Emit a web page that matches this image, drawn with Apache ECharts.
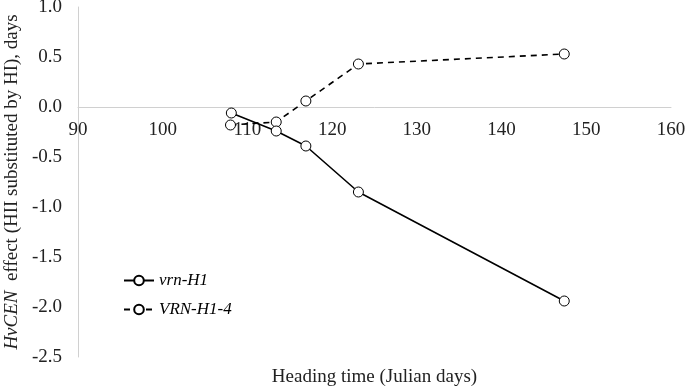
<!DOCTYPE html>
<html><head><meta charset="utf-8">
<script src="https://cdn.jsdelivr.net/npm/echarts@6/dist/echarts.min.js"></script>
<style>html,body{margin:0;padding:0;background:#fff}#c{width:685px;height:387px}</style>
</head><body><div id="c"></div>
<script>
const seriesNames = ['vrn-H1', 'VRN-H1-4'];
const vrnH1X = [108.1, 113.4, 116.9, 123.1, 147.4];
const vrnH1Y = [-0.06, -0.24, -0.39, -0.85, -1.94];
const VRNH14X = [108.0, 113.4, 116.9, 123.1, 147.4];
const VRNH14Y = [-0.18, -0.15, 0.06, 0.43, 0.53];
const xTicks = [90, 100, 110, 120, 130, 140, 150, 160];
const yTicks = [-2.5, -2.0, -1.5, -1.0, -0.5, 0.0, 0.5, 1.0];

const font = '"Liberation Serif", "Times New Roman", serif';
const fs = 19;
const gridTop = 7, gridBottom = 30, H = 387;
const plotH = H - gridTop - gridBottom;
const yMin = yTicks[0], yMax = yTicks[yTicks.length - 1];
const zeroOffset = -plotH * (0 - yMin) / (yMax - yMin);

const chart = echarts.init(document.getElementById('c'));
chart.setOption({
  animation: false,
  textStyle: {fontFamily: font},
  grid: {left: 78, right: 14, top: gridTop, bottom: gridBottom, containLabel: false, outerBoundsMode: 'none'},
  legend: {
    orient: 'vertical', left: 123, top: 272, padding: 0, itemGap: 12, itemWidth: 30, itemHeight: 12,
    textStyle: {fontFamily: font, fontSize: 17, fontStyle: 'italic', color: '#000'},
    data: seriesNames
  },
  xAxis: [{
    type: 'value', position: 'bottom', min: xTicks[0], max: xTicks[xTicks.length - 1], interval: 10,
    offset: zeroOffset,
    axisLine: {onZero: false, lineStyle: {color: '#d0d0d0', width: 1}},
    axisTick: {show: false}, splitLine: {show: false},
    axisLabel: {fontFamily: font, fontSize: fs, color: '#222', margin: 14}
  }, {
    type: 'value', position: 'bottom', offset: 0, min: xTicks[0], max: xTicks[xTicks.length - 1], interval: 10,
    axisLine: {show: false}, axisTick: {show: false}, splitLine: {show: false},
    axisLabel: {show: false},
    name: 'Heading time (Julian days)', nameLocation: 'middle', nameGap: 11,
    nameTextStyle: {fontFamily: font, fontSize: fs, color: '#222', verticalAlign: 'top'}
  }],
  yAxis: {
    type: 'value', min: yMin, max: yMax, interval: 0.5,
    axisLine: {show: true, lineStyle: {color: '#d0d0d0', width: 1}},
    axisTick: {show: false}, splitLine: {show: false},
    axisLabel: {fontFamily: font, fontSize: fs, color: '#222', margin: 16,
      formatter: v => v.toFixed(1)},
    name: '{i|HvCEN}  effect (HII substituted by HI), days', nameLocation: 'middle', nameGap: 53,
    nameTextStyle: {fontFamily: font, fontSize: fs, color: '#222',
      rich: {i: {fontFamily: font, fontSize: fs, fontStyle: 'italic', color: '#222'}}}
  },
  series: [
    {name: seriesNames[0], type: 'line', xAxisIndex: 0, data: vrnH1X.map((x, i) => [x, vrnH1Y[i]]),
     symbol: 'circle', symbolSize: 10,
     itemStyle: {color: '#fff', borderColor: '#000', borderWidth: 1},
     lineStyle: {color: '#000', width: 1.6}, z: 3},
    {name: seriesNames[1], type: 'line', xAxisIndex: 0, data: VRNH14X.map((x, i) => [x, VRNH14Y[i]]),
     symbol: 'circle', symbolSize: 10,
     itemStyle: {color: '#fff', borderColor: '#000', borderWidth: 1},
     lineStyle: {color: '#000', width: 1.6, type: [6, 5]}, z: 2}
  ]
});
</script></body></html>
